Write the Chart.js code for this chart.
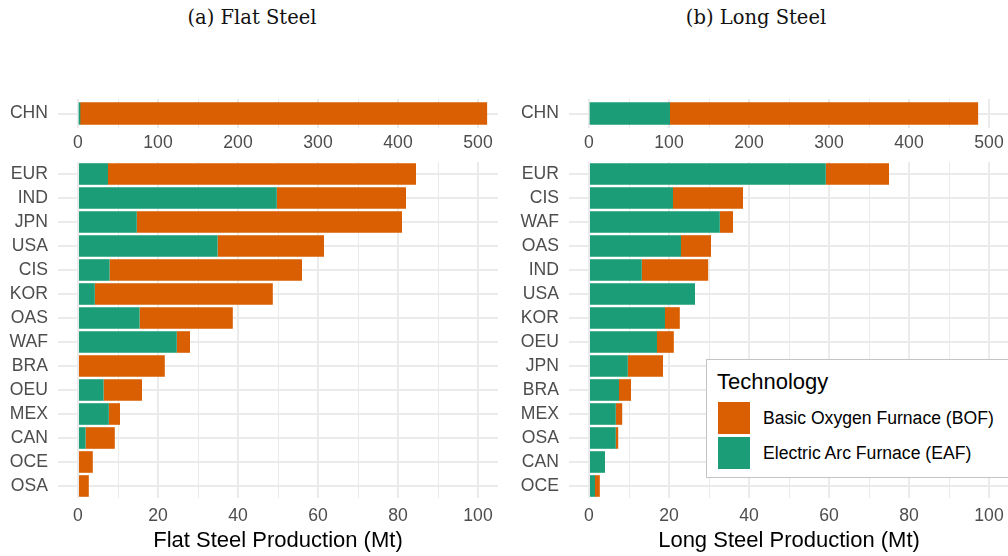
<!DOCTYPE html>
<html>
<head>
<meta charset="utf-8">
<script src="https://cdn.jsdelivr.net/npm/chart.js@4/dist/chart.umd.min.js"></script>
<style>
    html, body {
        margin: 0;
        padding: 0;
        background: #ffffff;
    }
    body {
        position: relative;
        width: 1008px;
        height: 556px;
        overflow: hidden;
        font-family: 'Liberation Sans', Arial, sans-serif;
    }
    canvas {
        position: absolute;
    }
    .caption {
        position: absolute;
        top: 6px;
        width: 504px;
        text-align: center;
        font-family: 'DejaVu Serif', 'Liberation Serif', serif;
        font-size: 19.5px;
        color: #111;
    }
    #legend {
        position: absolute;
        left: 706px;
        top: 359px;
        width: 320px;
        height: 119px;
        background: #ffffff;
        border: 1px solid #c4c4c4;
        box-sizing: border-box;
    }
    #legend .title {
        position: absolute;
        left: 10px;
        top: 9px;
        font-size: 22px;
        color: #000;
    }
    #legend .key {
        position: absolute;
        left: 11px;
        width: 32px;
        height: 32px;
    }
    #legend .label {
        position: absolute;
        left: 56px;
        font-size: 17.6px;
        color: #000;
    }
</style>
</head>
<body>

<div class="caption" style="left: 0px;">(a) Flat Steel</div>
<div class="caption" style="left: 504px;">(b) Long Steel</div>

<canvas id="flat-chn" width="504" height="59" style="left: 0px; top: 99px;"></canvas>
<canvas id="flat-main" width="504" height="394" style="left: 0px; top: 162px;"></canvas>
<canvas id="long-chn" width="505" height="59" style="left: 504px; top: 99px;"></canvas>
<canvas id="long-main" width="505" height="394" style="left: 504px; top: 162px;"></canvas>

<div id="legend">
    <div class="title">Technology</div>
    <div class="key" style="top: 42px; background: #D95F02;"></div>
    <div class="label" style="top: 48px;">Basic Oxygen Furnace (BOF)</div>
    <div class="key" style="top: 77px; background: #1B9E77;"></div>
    <div class="label" style="top: 83px;">Electric Arc Furnace (EAF)</div>
</div>

<script>
// production by region, Mt
const chnLabel = ['CHN'];

const flatChnEAF = [2.5];
const flatChnBOF = [508.5];

const flatRegions = ['EUR', 'IND', 'JPN', 'USA', 'CIS', 'KOR', 'OAS', 'WAF', 'BRA', 'OEU', 'MEX', 'CAN', 'OCE', 'OSA'];
const flatEAF = [7.5, 49.7, 14.7, 34.9, 7.9, 4.2, 15.4, 24.7, 0, 6.4, 7.7, 1.9, 0, 0];
const flatBOF = [77.0, 32.3, 66.3, 26.6, 48.1, 44.5, 23.3, 3.3, 21.7, 9.6, 2.8, 7.3, 3.7, 2.7];

const longChnEAF = [100.8];
const longChnBOF = [385.2];

const longRegions = ['EUR', 'CIS', 'WAF', 'OAS', 'IND', 'USA', 'KOR', 'OEU', 'JPN', 'BRA', 'MEX', 'OSA', 'CAN', 'OCE'];
const longEAF = [59.2, 21.0, 32.7, 23.0, 13.2, 26.5, 19.0, 17.0, 9.7, 7.5, 6.7, 6.7, 4.0, 1.5];
const longBOF = [15.8, 17.5, 3.3, 7.5, 16.6, 0, 3.7, 4.2, 8.8, 3.0, 1.6, 0.6, 0, 1.2];

const chnTicks = [0, 50, 100, 150, 200, 250, 300, 350, 400, 450, 500];
const mainTicks = [0, 10, 20, 30, 40, 50, 60, 70, 80, 90, 100];

const BOF_COLOR = '#D95F02';
const EAF_COLOR = '#1B9E77';
const GRID = '#EBEBEB';
const TICK_TEXT = '#4D4D4D';
const FONT = "'Liberation Sans', Arial, sans-serif";

// drop the label overhang padding so the plot area keeps its fixed size
function noOverhang(scale)
{
    scale.paddingTop = 0;
    scale.paddingBottom = 0;
    scale.paddingLeft = 0;
    scale.paddingRight = 0;
}

function makePanel(id, labels, eaf, bof, cfg)
{
    const canvas = document.getElementById(id);

    return new Chart(canvas, {
        type: 'bar',
        data: {
            labels,
            datasets: [
                {
                    label: 'Electric Arc Furnace (EAF)',
                    data: eaf,
                    backgroundColor: EAF_COLOR
                },
                {
                    label: 'Basic Oxygen Furnace (BOF)',
                    data: bof,
                    backgroundColor: BOF_COLOR
                }
            ]
        },
        options: {
            indexAxis: 'y',
            responsive: false,
            animation: false,
            devicePixelRatio: 1,
            layout: {
                padding: { left: 0, right: cfg.padRight, top: 0, bottom: 0 }
            },
            datasets: {
                bar: cfg.barThickness
                    ? { barThickness: cfg.barThickness }
                    : { barPercentage: 0.9, categoryPercentage: 1.0 }
            },
            plugins: {
                legend: { display: false },
                tooltip: { enabled: false }
            },
            scales: {
                x: {
                    type: 'linear',
                    stacked: true,
                    min: cfg.min,
                    max: cfg.max,
                    afterBuildTicks: scale => {
                        scale.ticks = cfg.ticks.map(v => ({ value: v }));
                    },
                    afterFit: scale => {
                        scale.height = cfg.xHeight;
                        noOverhang(scale);
                    },
                    border: { display: false },
                    grid: {
                        color: GRID,
                        drawTicks: false,
                        lineWidth: ctx =>
                            ctx.tick && ctx.tick.value % cfg.labelStep === 0 ? 2 : 1
                    },
                    ticks: {
                        autoSkip: false,
                        maxRotation: 0,
                        padding: cfg.tickPad,
                        color: TICK_TEXT,
                        font: { family: FONT, size: 17.6 },
                        callback: v => v % cfg.labelStep === 0 ? String(v) : ''
                    },
                    title: {
                        display: !!cfg.title,
                        text: cfg.title || '',
                        color: '#000000',
                        font: { family: FONT, size: 22 },
                        padding: { top: 0, bottom: 2 }
                    }
                },
                y: {
                    type: 'category',
                    stacked: true,
                    offset: true,
                    afterFit: scale => {
                        scale.width = cfg.yWidth;
                        noOverhang(scale);
                    },
                    border: { display: false },
                    grid: {
                        offset: false,
                        color: GRID,
                        lineWidth: 2,
                        drawTicks: false
                    },
                    ticks: {
                        autoSkip: false,
                        padding: 10,
                        color: TICK_TEXT,
                        font: { family: FONT, size: 17.6 }
                    }
                }
            }
        }
    });
}

makePanel('flat-chn', chnLabel, flatChnEAF, flatChnBOF, {
    min: -25, max: 525, ticks: chnTicks, labelStep: 100,
    yWidth: 58, xHeight: 30, tickPad: 5, padRight: 6, barThickness: 21.6
});

makePanel('flat-main', flatRegions, flatEAF, flatBOF, {
    min: -5, max: 105, ticks: mainTicks, labelStep: 20,
    yWidth: 58, xHeight: 58, tickPad: 8, padRight: 6,
    title: 'Flat Steel Production (Mt)'
});

makePanel('long-chn', chnLabel, longChnEAF, longChnBOF, {
    min: -25, max: 525, ticks: chnTicks, labelStep: 100,
    yWidth: 65, xHeight: 30, tickPad: 5, padRight: 0, barThickness: 21.6
});

makePanel('long-main', longRegions, longEAF, longBOF, {
    min: -5, max: 105, ticks: mainTicks, labelStep: 20,
    yWidth: 65, xHeight: 58, tickPad: 8, padRight: 0,
    title: 'Long Steel Production (Mt)'
});
</script>
</body>
</html>
